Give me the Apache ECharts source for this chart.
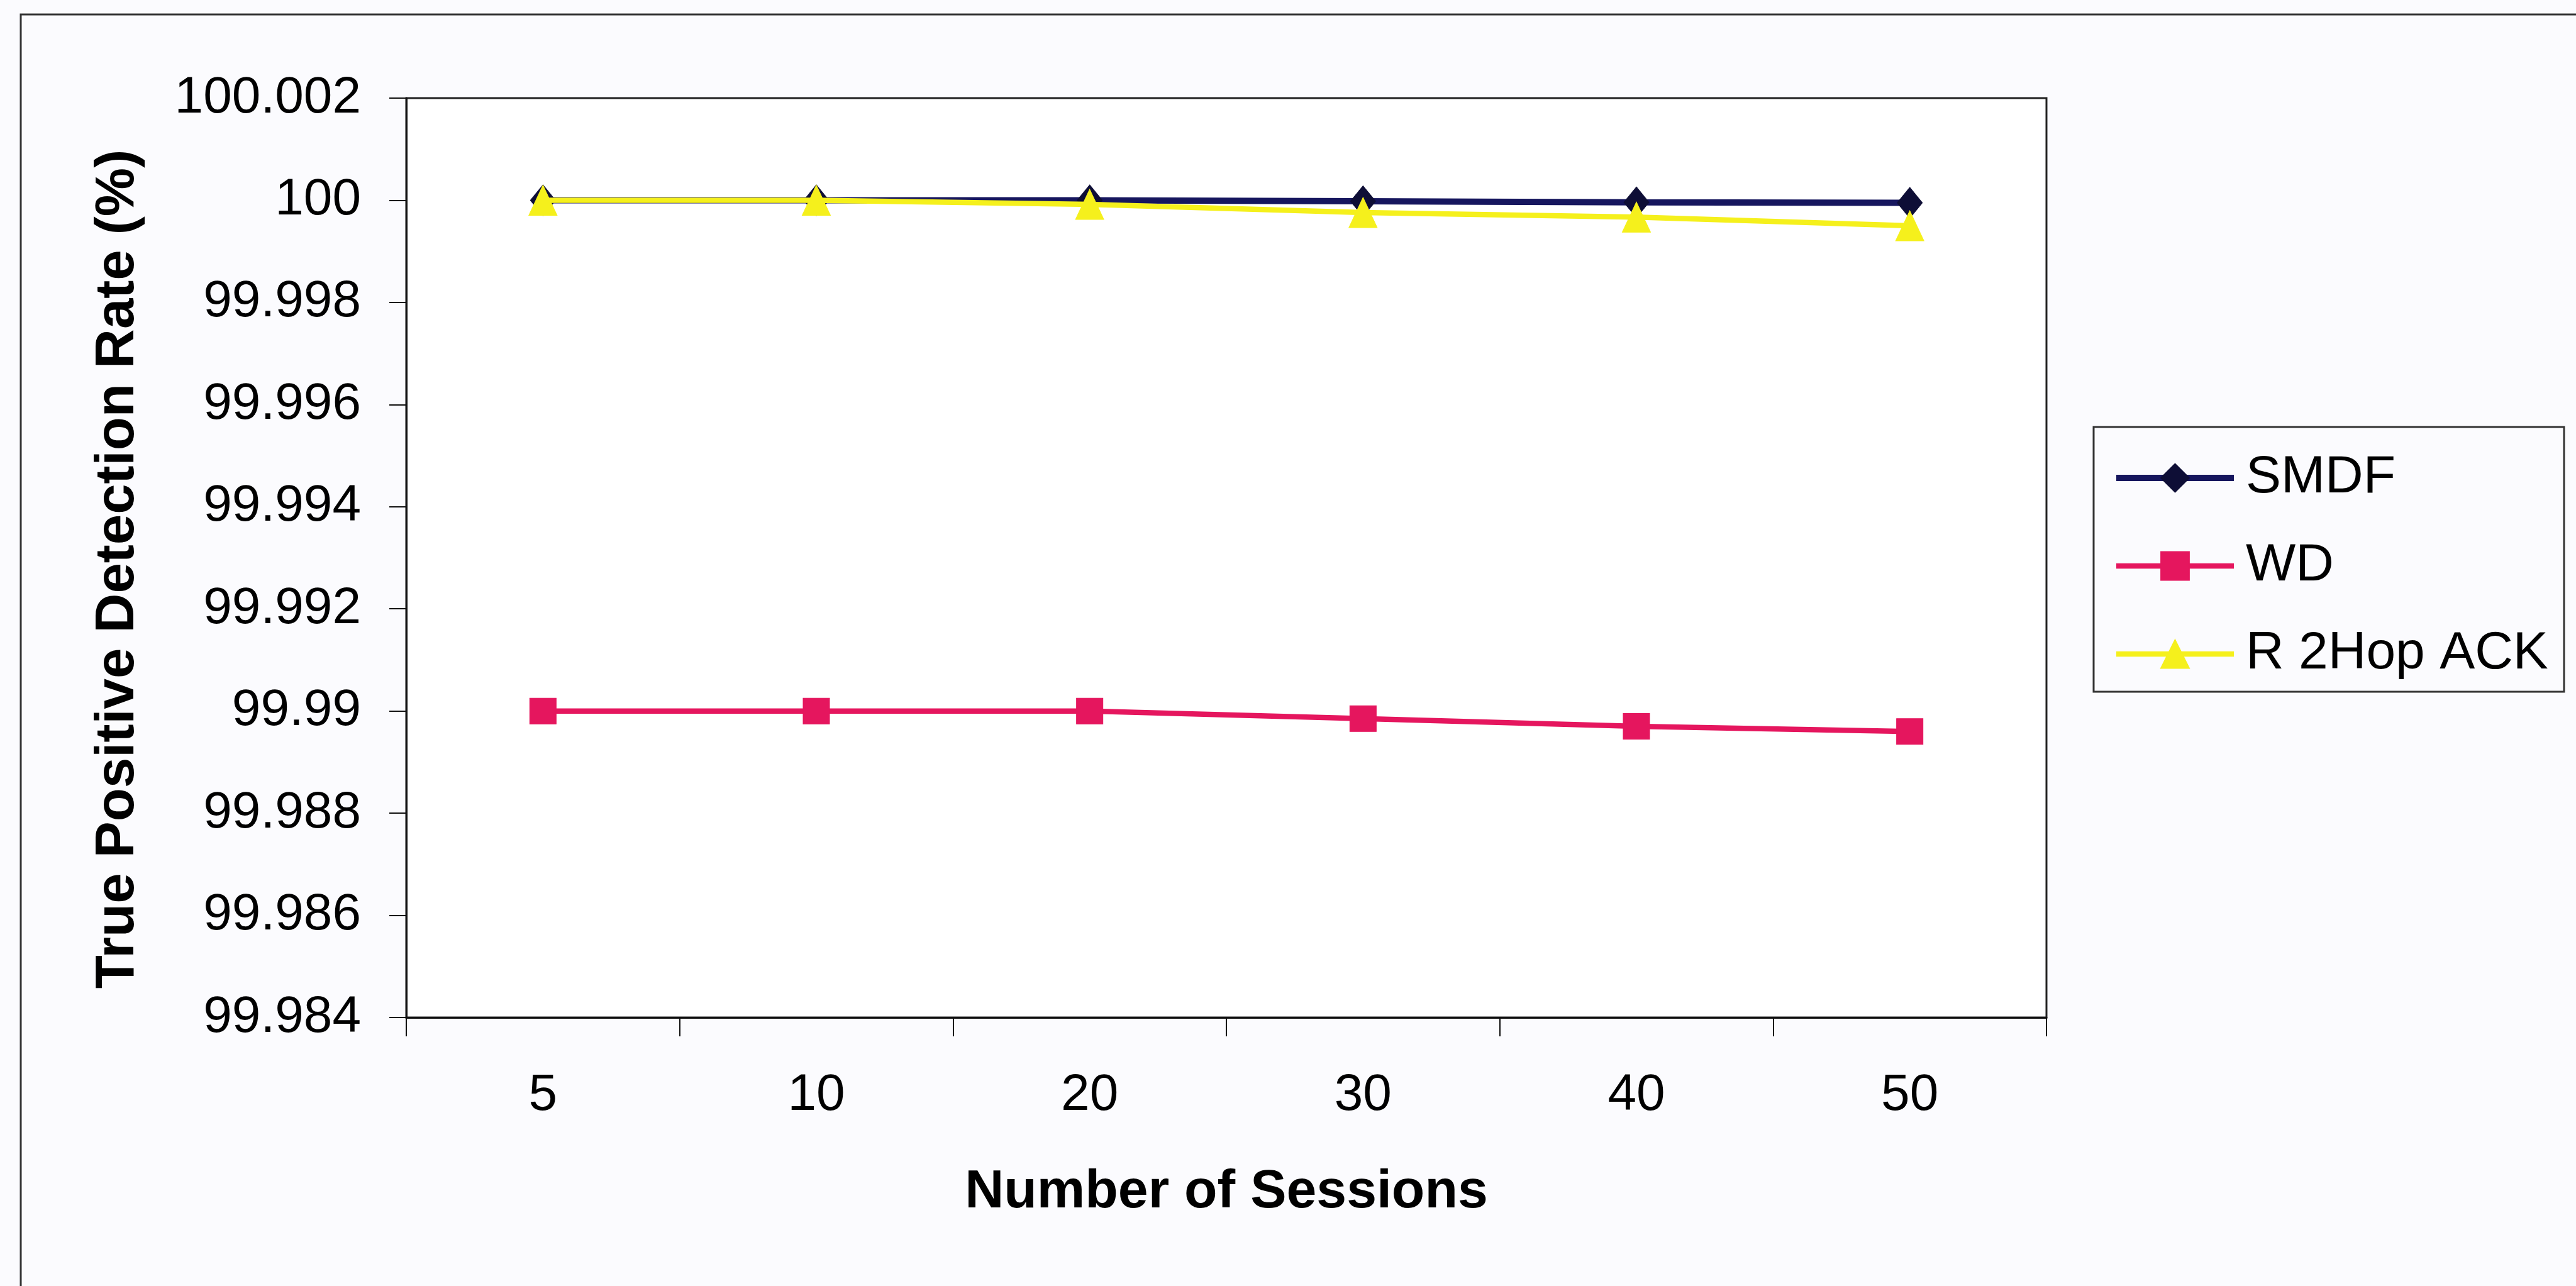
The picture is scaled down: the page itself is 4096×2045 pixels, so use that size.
<!DOCTYPE html>
<html>
<head>
<meta charset="utf-8">
<script src="https://cdn.jsdelivr.net/npm/echarts@6/dist/echarts.min.js"></script>
<style>
  html, body { margin: 0; padding: 0; background: #FBFBFE; }
  #chart { width: 4096px; height: 2045px; }
</style>
</head>
<body>
<div id="chart"></div>
<script>
// ---- data ----
var categories = ['5', '10', '20', '30', '40', '50'];
var smdf = [100, 100, 100, 99.99998, 99.99996, 99.99995];
var wd = [99.99, 99.99, 99.99, 99.98985, 99.9897, 99.9896];
var r2hop = [100, 100, 99.99992, 99.99976, 99.99967, 99.9995];
var seriesNames = ['SMDF', 'WD', 'R 2Hop ACK'];
var yMin = 99.984, yMax = 100.002, yStep = 0.002;
var xTitle = 'Number of Sessions';
var yTitle = 'True Positive Detection Rate (%)';

var FONT = '"Liberation Sans", Arial, sans-serif';
var chart = echarts.init(document.getElementById('chart'), null, { renderer: 'canvas' });

chart.setOption({
  backgroundColor: '#FBFBFE',
  animation: false,
  textStyle: { fontFamily: FONT },
  graphic: [
    { type: 'rect', z: 0, shape: { x: 33, y: 23, width: 5000, height: 3000 },
      style: { fill: 'transparent', stroke: '#333', lineWidth: 3 } },
    { type: 'rect', z: 1, shape: { x: 3329, y: 679, width: 748, height: 421 },
      style: { fill: 'transparent', stroke: '#333', lineWidth: 3 } }
  ],
  grid: {
    left: 646, top: 156, width: 2608, height: 1462,
    show: true, backgroundColor: '#FFFFFF', borderColor: '#222', borderWidth: 3
  },
  legend: {
    orient: 'vertical',
    left: 3360, top: 718,
    itemWidth: 187, itemHeight: 56, itemGap: 56,
    padding: 0,
    data: seriesNames,
    lineStyle: { width: 'inherit' },
    textStyle: { fontFamily: FONT, fontSize: 84, color: '#000', lineHeight: 84, padding: [0, 0, 0, 14] }
  },
  xAxis: {
    type: 'category',
    data: categories,
    boundaryGap: true,
    name: xTitle,
    nameLocation: 'middle',
    nameGap: 235,
    nameTextStyle: { fontFamily: FONT, fontSize: 86, fontWeight: 'bold', color: '#000', lineHeight: 86 },
    axisLine: { lineStyle: { color: '#111', width: 3 } },
    axisTick: { show: true, inside: false, length: 30, alignWithLabel: false, lineStyle: { color: '#111', width: 2 } },
    axisLabel: { fontFamily: FONT, fontSize: 82, color: '#000', margin: 83, lineHeight: 82 },
    splitLine: { show: false }
  },
  yAxis: {
    type: 'value',
    min: yMin, max: yMax, interval: yStep,
    name: yTitle,
    nameLocation: 'middle',
    nameGap: 414,
    nameRotate: 90,
    nameTextStyle: { fontFamily: FONT, fontSize: 87, fontWeight: 'bold', color: '#000', padding: [0, 36, 0, 0] },
    axisLine: { show: true, lineStyle: { color: '#111', width: 3 } },
    axisTick: { show: true, inside: false, length: 27, lineStyle: { color: '#111', width: 2 } },
    axisLabel: {
      fontFamily: FONT, fontSize: 82, color: '#000', margin: 72,
      formatter: function (v) { return String(parseFloat(v.toFixed(3))); }
    },
    splitLine: { show: false }
  },
  series: [
    {
      name: seriesNames[0], type: 'line', data: smdf,
      symbol: 'diamond', symbolSize: [40, 49],
      lineStyle: { color: '#16165E', width: 10 },
      itemStyle: { color: '#0E0E36', borderColor: '#0E0E36', borderWidth: 1 },
      z: 2
    },
    {
      name: seriesNames[1], type: 'line', data: wd,
      symbol: 'rect', symbolSize: [42, 41],
      lineStyle: { color: '#E5165E', width: 8.5 },
      itemStyle: { color: '#E5165E', borderColor: '#E5165E', borderWidth: 1 },
      z: 3
    },
    {
      name: seriesNames[2], type: 'line', data: r2hop,
      symbol: 'triangle', symbolSize: [45, 48],
      lineStyle: { color: '#F5F01C', width: 8.5 },
      itemStyle: { color: '#F5F01C', borderColor: '#F5F01C', borderWidth: 1 },
      z: 4
    }
  ]
});
</script>
</body>
</html>
